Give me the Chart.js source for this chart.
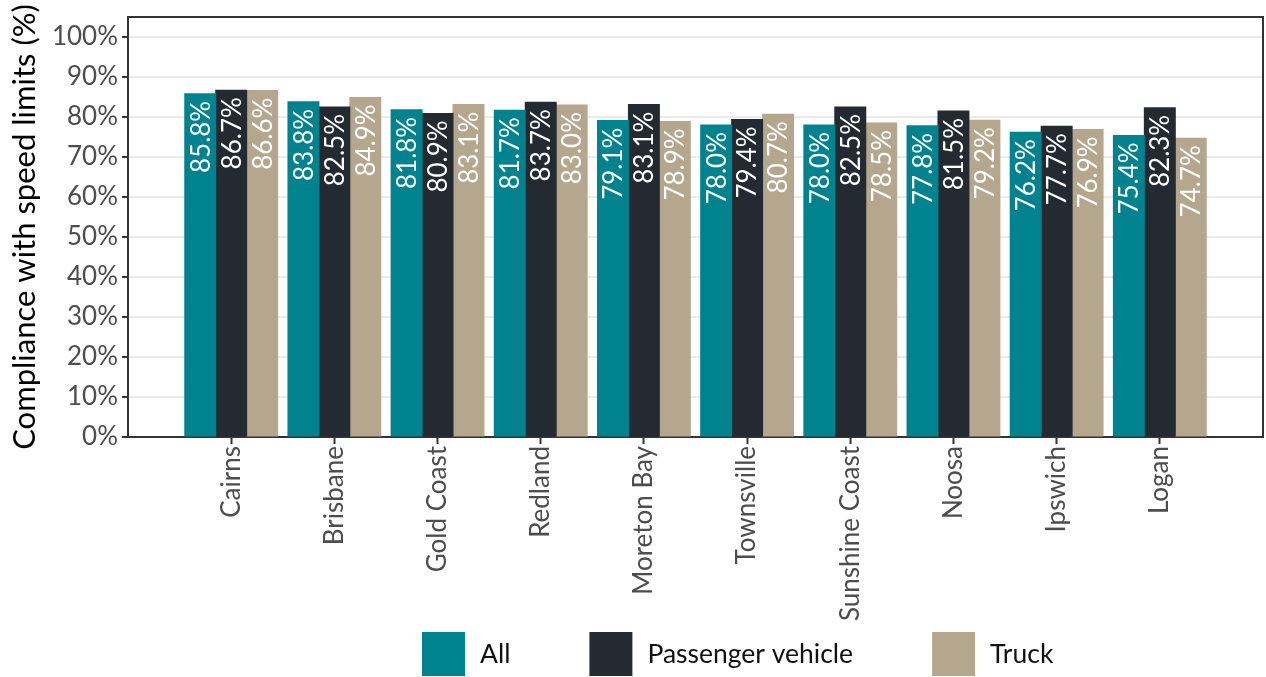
<!DOCTYPE html>
<html>
<head>
<meta charset="utf-8">
<script src="https://cdn.jsdelivr.net/npm/chart.js@4"></script>
<style>
html,body{margin:0;padding:0;background:#fff;}
#wrap{width:1266px;height:677px;position:relative;}
</style>
</head>
<body>
<div id="wrap"><canvas id="c" width="1266" height="677"></canvas></div>
<script>
const categories = ['Cairns','Brisbane','Gold Coast','Redland','Moreton Bay','Townsville','Sunshine Coast','Noosa','Ipswich','Logan'];
const allValues = [85.8, 83.8, 81.8, 81.7, 79.1, 78.0, 78.0, 77.8, 76.2, 75.4];
const passengerValues = [86.7, 82.5, 80.9, 83.7, 83.1, 79.4, 82.5, 81.5, 77.7, 82.3];
const truckValues = [86.6, 84.9, 83.1, 83.0, 78.9, 80.7, 78.5, 79.2, 76.9, 74.7];
const seriesNames = ['All','Passenger vehicle','Truck'];
const seriesColors = ['#00838f','#232a31','#b4a78e'];
const yTicks = [0,10,20,30,40,50,60,70,80,90,100];

const FONT = 'Lato, "Open Sans", sans-serif';
// pad with empty slots at both ends so the first/last groups sit one step in from the border
const labels = [''].concat(categories, ['']);
const pad = arr => [null].concat(arr, [null]);

const barLabels = {
  id: 'barLabels',
  afterDatasetsDraw(chart) {
    const ctx = chart.ctx;
    ctx.save();
    ctx.font = '26px ' + FONT;
    ctx.fillStyle = '#ffffff';
    ctx.textAlign = 'right';
    ctx.textBaseline = 'middle';
    chart.data.datasets.forEach((ds, di) => {
      const meta = chart.getDatasetMeta(di);
      meta.data.forEach((el, i) => {
        const v = ds.data[i];
        if (v === null || v === undefined) return;
        ctx.save();
        ctx.translate(el.x + 1, el.y + 7);
        ctx.rotate(-Math.PI / 2);
        ctx.fillText(v.toFixed(1) + '%', 0, 0);
        ctx.restore();
      });
    });
    ctx.restore();
  }
};

const frame = {
  id: 'frame',
  afterDraw(chart) {
    const {ctx, chartArea: a} = chart;
    ctx.save();
    ctx.strokeStyle = '#333333';
    ctx.lineWidth = 2;
    ctx.beginPath();
    ctx.moveTo(a.left, a.top);
    ctx.lineTo(a.right, a.top);
    ctx.lineTo(a.right, a.bottom);
    ctx.stroke();
    ctx.restore();
  }
};

const customLegend = {
  id: 'customLegend',
  afterDraw(chart) {
    const ctx = chart.ctx;
    ctx.save();
    ctx.font = '26.5px ' + FONT;
    ctx.textBaseline = 'middle';
    ctx.textAlign = 'left';
    const box = 43, gap = 15, spacing = 79;
    const top = 632, cy = top + box / 2 + 1;
    let x = 422;
    chart.data.datasets.forEach((ds) => {
      ctx.fillStyle = ds.backgroundColor;
      ctx.fillRect(x, top, box, box + 1);
      ctx.fillStyle = '#111111';
      ctx.fillText(ds.label, x + box + gap, cy);
      x += box + gap + ctx.measureText(ds.label).width + spacing;
    });
    ctx.restore();
  }
};

new Chart(document.getElementById('c'), {
  type: 'bar',
  data: {
    labels: labels,
    datasets: [
      {label: seriesNames[0], data: pad(allValues), backgroundColor: seriesColors[0]},
      {label: seriesNames[1], data: pad(passengerValues), backgroundColor: seriesColors[1]},
      {label: seriesNames[2], data: pad(truckValues), backgroundColor: seriesColors[2]}
    ]
  },
  options: {
    responsive: false,
    animation: false,
    devicePixelRatio: 1,
    categoryPercentage: 0.9,
    barPercentage: 1.0,
    datasets: {bar: {borderWidth: 0, inflateAmount: 0.5}},
    layout: {padding: {top: 17, right: 3, left: 0, bottom: 0}},
    plugins: {legend: {display: false}, tooltip: {enabled: false}},
    scales: {
      x: {
        offset: false,
        grid: {
          offset: false,
          drawOnChartArea: false,
          tickLength: 7,
          tickWidth: 2,
          tickColor: (c) => (c.index === 0 || c.index === labels.length - 1) ? 'rgba(0,0,0,0)' : '#333333'
        },
        border: {color: '#333333', width: 2},
        ticks: {
          autoSkip: false,
          maxRotation: 90,
          minRotation: 90,
          padding: 2,
          color: '#4d4d4d',
          font: {family: FONT, size: 26}
        },
        afterFit: (s) => { s.height = 240; s.paddingLeft = 0; s.paddingRight = 0; }
      },
      y: {
        min: 0,
        max: 105,
        afterBuildTicks: (s) => {
          const t = [];
          for (let v = 0; v <= 105; v += 5) t.push({value: v});
          s.ticks = t;
        },
        grid: {
          color: '#ebebeb',
          lineWidth: 2,
          tickLength: 6,
          tickWidth: 2,
          tickColor: (c) => (c.tick && yTicks.includes(c.tick.value)) ? '#333333' : 'rgba(0,0,0,0)'
        },
        border: {color: '#333333', width: 2},
        ticks: {
          padding: 4,
          color: '#4d4d4d',
          font: {family: FONT, size: 26},
          callback: (v) => yTicks.includes(v) ? v + '%' : ''
        },
        title: {
          display: true,
          text: 'Compliance with speed limits (%)',
          color: '#000000',
          font: {family: FONT, size: 31},
          padding: {top: 6, bottom: 0}
        },
        afterFit: (s) => { s.width = 128; s.paddingTop = 0; s.paddingBottom = 0; }
      }
    }
  },
  plugins: [barLabels, frame, customLegend]
});
</script>
</body>
</html>
